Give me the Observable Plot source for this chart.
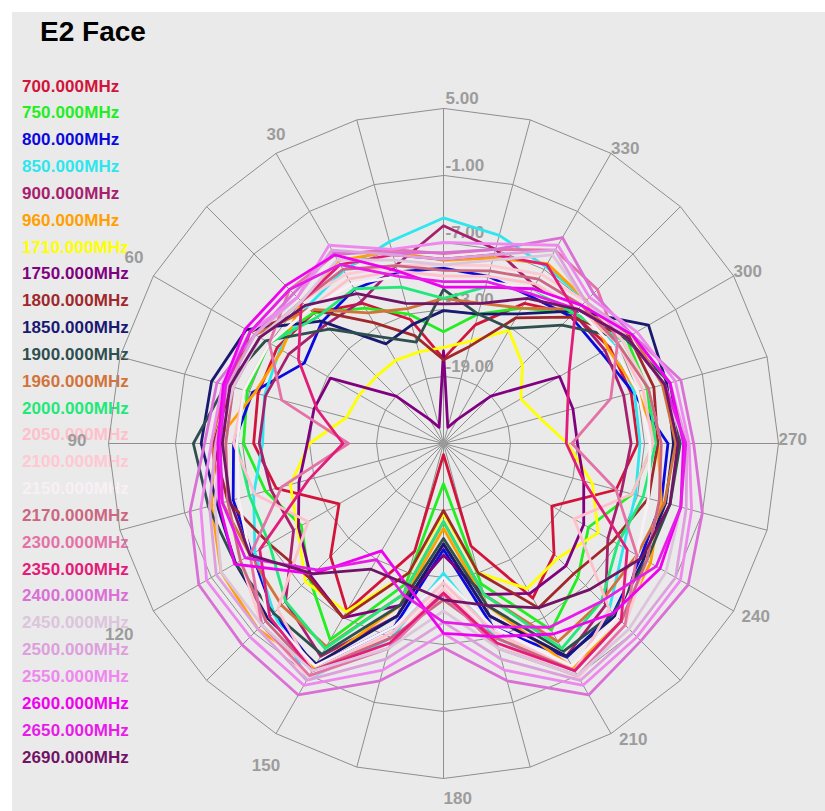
<!DOCTYPE html>
<html>
<head>
<meta charset="utf-8">
<script src="https://cdn.jsdelivr.net/npm/d3@7"></script>
<script src="https://cdn.jsdelivr.net/npm/@observablehq/plot@0.6"></script>
<style>
html,body{margin:0;padding:0;background:#fff;}
#wrap{position:relative;width:825px;height:811px;overflow:hidden;}
#panel{position:absolute;left:12px;top:12px;width:813px;height:799px;background:#EAEAEA;}
#title{position:absolute;left:40px;top:18px;font:bold 28px "Liberation Sans",Arial,sans-serif;line-height:28px;color:#000;white-space:nowrap;}
#legend{position:absolute;left:22px;top:0;font:bold 17px "Liberation Sans",Arial,sans-serif;letter-spacing:0.1px;}
#legend div{position:absolute;left:0;white-space:nowrap;line-height:17px;}
#chart{position:absolute;left:0;top:0;}
</style>
</head>
<body>
<div id="wrap">
  <div id="panel"></div>
  <div id="title">E2 Face</div>
  <div id="legend"></div>
  <div id="chart"></div>
</div>
<script>
// ---- data ----
const angles = [0,15,30,45,60,75,90,105,120,135,150,165,180,195,210,225,240,255,270,285,300,315,330,345];
const freqLabels = ["700.000MHz","750.000MHz","800.000MHz","850.000MHz","900.000MHz","960.000MHz","1710.000MHz","1750.000MHz","1800.000MHz","1850.000MHz","1900.000MHz","1960.000MHz","2000.000MHz","2050.000MHz","2100.000MHz","2150.000MHz","2170.000MHz","2300.000MHz","2350.000MHz","2400.000MHz","2450.000MHz","2500.000MHz","2550.000MHz","2600.000MHz","2650.000MHz","2690.000MHz"];
const colors = ["#D2143A","#22EE22","#0A0ADC","#2EE6EE","#A6206E","#FFA000","#FFFF00","#800080","#A0282A","#191970","#2F4F4F","#D2733A","#22E87A","#FFC0CB","#FFC8D2","#F8F0F4","#CC6681","#E472A6","#E31C79","#DA70D6","#DCC4DC","#DDA0DD","#EE88EE","#F000F0","#E81CE8","#701466"];
const ringTicks = [5,-1,-7,-13,-19];
const angleLabels = [30,60,90,120,150,180,210,240,270,300,330];

const s700  = [-17.4,-13.5,-10.5,-8.5,-7.8,-7.8,-8.0,-9.5,-14.2,-10.7,-7.7,-15,-24,-15.5,-9,-11,-13.8,-9,-7.6,-7.6,-7.8,-8.6,-10.5,-14];
const s750  = [-15,-13,-11,-8.5,-7,-6.8,-7.1,-8.5,-10.3,-8,-4.7,-12,-21.4,-12,-5.7,-8,-10,-7.5,-6.2,-6.1,-6.1,-8.5,-11,-13];
const s800  = [-9.3,-9.1,-9.05,-9.6,-10.6,-7.3,-6.2,-5.5,-5.2,-3.5,-2,-8,-15.5,-8,-2.9,-3.5,-4.6,-4.8,-4.9,-7.4,-8.7,-8.9,-9.7,-9.5];
const s850  = [-4.8,-6.3,-7.1,-7.7,-8.1,-8.4,-8.8,-7.4,-5.5,-3.5,-0.6,-7,-13.4,-7,-1.5,-4,-6.4,-7.2,-7.4,-7.3,-7.4,-6.9,-6.7,-5.7];
const s900  = [-5.5,-8.5,-10.3,-10,-9,-8.5,-8.5,-9,-9.5,-5,-3,-9,-16,-9,-3,-4.5,-8,-8.5,-8.2,-8.3,-8.3,-8.5,-8.7,-7];
const s960  = [-8.6,-7.2,-6.1,-7,-8.3,-7.5,-4.5,-3.5,-2,-1.5,-1.8,-10,-17.4,-10,-1.8,-2.5,-3.6,-4.8,-5.8,-7,-8,-6.9,-6.4,-7.8];
const s1710 = [-16.4,-16.5,-16.4,-16.5,-16.3,-16,-13,-10.8,-9.9,-7.5,-7.6,-13,-18.7,-13,-10,-10.5,-9,-11.2,-13.9,-16.1,-17,-15,-13.3,-15.5];
const s1750 = [-16.7,-23.5,-22.5,-19,-13.3,-13,-12.8,-11.6,-10,-8.2,-7,-10,-15,-11,-9.5,-9.5,-10.5,-12,-13,-13,-13,-19,-22.5,-23.5];
const s1800 = [-17.5,-15,-12.5,-8,-5,-5.3,-4.4,-5,-7,-8,-7,-13,-19,-13,-8,-8.5,-7.5,-6,-5.8,-5.5,-5.8,-9,-12,-16];
const s1850 = [-13.1,-14,-14.7,-9.5,-4.6,-3.5,-3.3,-4,-3.5,-2.8,-2.2,-9,-16,-9,-3,-3.2,-4.3,-4.4,-4.4,-4.3,-3.8,-8.2,-11.6,-13];
const s1900 = [-11.2,-15.6,-14,-10.5,-6.6,-4.8,-2.6,-3.2,-3.5,-3.5,-3.2,-10,-16.5,-10,-3.5,-3.5,-4,-4,-3.8,-4,-6.2,-10,-13.1,-13];
const s1960 = [-12,-12.5,-11.5,-8,-5.5,-4.8,-4.2,-4.5,-5,-4.5,-4,-11,-18,-11,-4.5,-5,-5,-4.5,-4.2,-4.7,-5.5,-8,-11,-12];
const s2000 = [-12,-10.5,-9,-9,-7,-6.5,-6.5,-7,-7,-5,-3.8,-11,-18,-11,-3.8,-5,-7,-6.5,-6,-6,-6.5,-8.5,-9,-10.5];
const s2050 = [-10,-9,-8,-8,-7,-6.5,-6.2,-7.5,-11,-4,-1.5,-7.5,-12.5,-7.5,-1.5,-4,-11.5,-7.5,-6.2,-6.5,-7,-8,-8.5,-9.5];
const s2100 = [-9,-8.5,-7.5,-7,-6,-5.5,-5.5,-5,-4,-2,-0.8,-6.5,-12,-6.5,-0.8,-2,-4,-5,-5.5,-6,-6.5,-7,-7.5,-8.5];
const s2150 = [-10.5,-9.5,-8.5,-8,-7,-6.5,-6.5,-6,-5,-3,-2,-8,-13,-8,-2,-3,-5,-6,-6.5,-7,-7.5,-8,-9,-10];
const s2170 = [-9.5,-8.5,-7,-7,-6,-5.5,-5.5,-5,-4,-2.5,-1.5,-7,-11,-7,-1.5,-2.5,-4,-5,-5.5,-6,-7,-7.5,-8,-9];
const s2300 = [-8,-7,-5.5,-5.5,-7,-10,-16.5,-10,-5,-2,-1,-6,-11.5,-6,-1,-2,-5,-9,-13.5,-9.5,-7,-5.5,-5,-7];
const s2350 = [-8.5,-7.5,-6.5,-7,-10,-13.3,-16,-12.5,-6,-3,-1.5,-6.5,-11.6,-6.5,-1.5,-2.5,-6,-12,-14,-13.5,-12,-8.3,-6.5,-7.5];
const s2400 = [-7.9,-7.3,-5.3,-6,-5.5,-4,-3.6,-1.5,0.3,0.5,1,-3,-6.7,-3,1,0,0.3,-1,-2.6,-3,-5.5,-6,-3.7,-7];
const s2450 = [-9,-8,-6,-7,-6,-5.5,-5,-3.8,-2,-2,-1.5,-6,-10,-6,-1,-1.5,-2,-3,-3.5,-4.5,-6,-7,-5.5,-8];
const s2500 = [-8.5,-7.5,-5,-6.5,-5.5,-5,-4.6,-3.3,-1.5,-1.5,-0.5,-5,-9,-5,-0.5,-1,-1,-2.5,-3.2,-4,-5.5,-7,-5,-7.5];
const s2550 = [-7,-7,-4.5,-6.5,-5,-4.5,-4.2,-2.5,-0.5,-0.5,0,-4,-8,-4,0,-0.5,-0.5,-2,-3,-3.5,-5,-6.5,-4.5,-6.5];
const s2600 = [-11,-9,-5.5,-5,-4.5,-4.6,-4.8,-4.2,-3.4,-8.5,-13.9,-12,-8,-7.1,-5.3,-3.5,-2.6,-3,-3.5,-4,-5.5,-7.5,-9,-10.5];
const s2650 = [-10.5,-9.5,-6.5,-5.5,-5,-4.8,-5,-4.5,-4.5,-9,-13,-11,-9,-8,-6,-5,-3,-3,-3.3,-4.5,-6,-8,-9.5,-10];
const s2690 = [-12.5,-12,-9.5,-7.5,-6,-5.2,-5.2,-5.2,-5,-8.5,-12,-12,-11,-10,-8,-6.5,-4.5,-4,-4,-4.5,-6,-8,-10,-12];

const seriesValues = [s700,s750,s800,s850,s900,s960,s1710,s1750,s1800,s1850,s1900,s1960,s2000,s2050,s2100,s2150,s2170,s2300,s2350,s2400,s2450,s2500,s2550,s2600,s2650,s2690];

// ---- polar helpers (radius in dB above the -25 dB centre) ----
const rMin = -25, rMax = 5, span = rMax - rMin;
const pxPerUnit = 335 / span;
const cx = 443, cy = 443, W = 825, H = 811;
const rad = a => a * Math.PI / 180;
const px = (v, a) => -(Math.max(v - rMin, 0)) * Math.sin(rad(a));
const py = (v, a) => (Math.max(v - rMin, 0)) * Math.cos(rad(a));

const rows = [];
seriesValues.forEach((vals, i) => {
  vals.forEach((v, j) => rows.push({freq: freqLabels[i], x: px(v, angles[j]), y: py(v, angles[j])}));
});
const ringRows = [];
ringTicks.forEach(t => angles.forEach(a => ringRows.push({t, x: px(t, a), y: py(t, a)})));

const gridColor = "#8E8E8E";
const labelColor = "#9C9C9C";
const font = "'Liberation Sans', Arial, sans-serif";
const labelStyle = {fill: labelColor, fontSize: 17, fontWeight: "bold", fontFamily: font};

// angle-label placement styles (anchor relative to the outer ring point)
const labelGroups = [
  {set: [270, 300, 330], textAnchor: "start", lineAnchor: "bottom", dx: 0, dy: 1},
  {set: [210, 240], textAnchor: "start", lineAnchor: "top", dx: 8, dy: -1},
  {set: [180], textAnchor: "start", lineAnchor: "top", dx: 0, dy: 13},
  {set: [150], textAnchor: "middle", lineAnchor: "top", dx: -10, dy: 25},
  {set: [120], textAnchor: "end", lineAnchor: "top", dx: -20, dy: 17},
  {set: [90], textAnchor: "end", lineAnchor: "middle", dx: -22, dy: -3},
  {set: [60], textAnchor: "end", lineAnchor: "bottom", dx: -10, dy: -13},
  {set: [30], textAnchor: "middle", lineAnchor: "bottom", dx: 0, dy: -13}
];
const labelMarks = labelGroups.map(g => Plot.text(angleLabels.filter(a => g.set.includes(a)), {
  x: a => px(rMax, a), y: a => py(rMax, a), text: a => String(a),
  textAnchor: g.textAnchor, lineAnchor: g.lineAnchor, dx: g.dx, dy: g.dy, ...labelStyle
}));

const chart = Plot.plot({
  width: W, height: H, margin: 0,
  style: {background: "transparent", overflow: "visible"},
  x: {domain: [-cx / pxPerUnit, (W - cx) / pxPerUnit], axis: null},
  y: {domain: [-(H - cy) / pxPerUnit, cy / pxPerUnit], axis: null},
  color: {domain: freqLabels, range: colors},
  marks: [
    Plot.line(ringRows, {x: "x", y: "y", z: "t", curve: "linear-closed", stroke: gridColor, strokeWidth: 1}),
    Plot.link(angles, {x1: 0, y1: 0, x2: a => px(rMax, a), y2: a => py(rMax, a), stroke: gridColor, strokeWidth: 1}),
    Plot.dot([0], {x: 0, y: 0, symbol: "diamond", r: 4, fill: "#9A9A9A"}),
    Plot.text(ringTicks, {x: 0, y: t => t - rMin, text: t => t.toFixed(2), textAnchor: "start", lineAnchor: "bottom", dx: 2, dy: -5, ...labelStyle}),
    ...labelMarks,
    Plot.line(rows, {x: "x", y: "y", z: "freq", stroke: "freq", strokeWidth: 2.8, curve: "linear-closed", strokeLinejoin: "round"})
  ]
});
document.getElementById("chart").appendChild(chart);

// ---- legend ----
const legend = document.getElementById("legend");
freqLabels.forEach((f, i) => {
  const d = document.createElement("div");
  d.textContent = f;
  d.style.color = colors[i];
  d.style.top = (77.5 + i * 26.84) + "px";
  legend.appendChild(d);
});
</script>
</body>
</html>
